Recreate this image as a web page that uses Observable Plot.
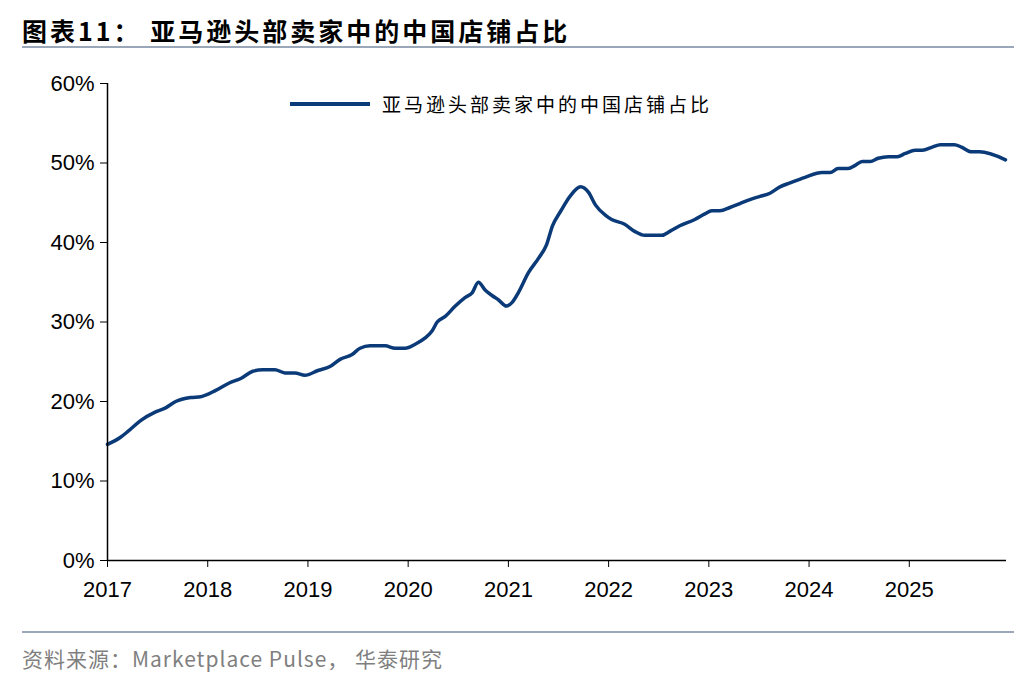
<!DOCTYPE html>
<html><head><meta charset="utf-8">
<script src="https://cdn.jsdelivr.net/npm/d3@7"></script>
<script src="https://cdn.jsdelivr.net/npm/@observablehq/plot@0.6"></script>
<style>
body{margin:0;background:#fff;font-family:"Liberation Sans",Arial,sans-serif;}
#wrap{position:relative;width:1036px;height:684px;}
#title{position:absolute;left:22px;top:12px;font-family:"Noto Sans CJK SC";font-weight:bold;font-size:25px;color:#000;letter-spacing:3px;}
#tline{position:absolute;left:22px;right:22px;top:46px;border-top:2px solid #9aa7b8;}
#chart{position:absolute;left:0;top:65px;}
#chart svg text{font-size:22px !important;font-family:"Liberation Sans",Arial,sans-serif;}
#legend{position:absolute;left:290px;top:90px;font-family:"Noto Sans CJK SC";font-size:19px;display:flex;align-items:center;letter-spacing:3px;}
#legend span{display:inline-block;width:80px;border-top:4px solid #0b3a78;margin-right:12px;}
#bline{position:absolute;left:22px;right:22px;top:631px;border-top:2px solid #9aa7b8;}
#src{position:absolute;left:22px;top:643px;font-family:"Noto Sans CJK SC";font-size:21px;color:#7f7f7f;letter-spacing:1px;}
</style></head><body>
<div id="wrap">
<div id="title">图表11：&nbsp;亚马逊头部卖家中的中国店铺占比</div>
<div id="tline"></div>
<div id="chart"></div>
<div id="legend"><span></span>亚马逊头部卖家中的中国店铺占比</div>
<div id="bline"></div>
<div id="src">资料来源：Marketplace Pulse， 华泰研究</div>
</div>
<script>
const seriesName = "亚马逊头部卖家中的中国店铺占比";
const t = [0,.13,.21,.33,.48,.58,.68,.83,.93,1.08,1.21,1.33,1.45,1.55,1.67,1.77,1.87,1.97,2.10,2.22,2.32,2.44,2.52,2.62,2.77,2.87,2.97,3.07,3.17,3.24,3.29,3.37,3.47,3.57,3.64,3.70,3.77,3.84,3.90,3.98,4.04,4.10,4.20,4.30,4.38,4.44,4.52,4.62,4.72,4.80,4.87,4.97,5.03,5.16,5.26,5.36,5.53,5.61,5.71,5.86,5.96,6.03,6.11,6.21,6.31,6.41,6.51,6.61,6.71,6.81,6.96,7.13,7.21,7.29,7.39,7.46,7.53,7.61,7.69,7.79,7.88,7.96,8.06,8.13,8.23,8.31,8.45,8.52,8.62,8.70,8.96];
const v = [14.6,15.5,16.3,17.6,18.7,19.2,20,20.5,20.6,21.4,22.3,22.9,23.8,24,24,23.6,23.6,23.3,23.9,24.4,25.3,25.9,26.7,27,27,26.7,26.7,27.2,28,28.9,30,30.7,32,33.1,33.7,35,34,33.3,32.8,32,32.5,33.7,36.2,38,39.7,42.1,43.9,45.9,47,46.3,44.7,43.4,42.9,42.3,41.4,40.9,40.9,41.4,42.1,42.9,43.6,44,44,44.4,44.9,45.4,45.8,46.2,47,47.5,48.2,48.8,48.8,49.3,49.3,49.7,50.2,50.2,50.6,50.8,50.8,51.2,51.6,51.6,52,52.3,52.3,52,51.4,51.4,50.4];
const yearTicks = [2017,2018,2019,2020,2021,2022,2023,2024,2025];
const yTicks = [0,10,20,30,40,50,60];
const data = t.map((d,i)=>({x:2017+d, y:v[i]}));
const plot = Plot.plot({
  width:1036, height:545, marginLeft:107, marginRight:30, marginTop:18, marginBottom:50,
  style:{fontFamily:"Liberation Sans, Arial", fontSize:"22px", color:"#000", overflow:"visible"},
  x:{domain:[2017,2025.97], ticks:yearTicks, tickFormat:d=>String(d), tickSize:7, label:null, tickPadding:14},
  y:{domain:[0,60], ticks:yTicks, tickFormat:d=>d+"%", tickSize:7, label:null, tickPadding:6},
  marks:[
    Plot.line(data,{x:"x",y:"y",stroke:"#0b3a78",strokeWidth:3.5,curve:"monotone-x"}),
    Plot.ruleX([2017],{stroke:"#000",strokeWidth:1.5}),
    Plot.ruleY([0],{stroke:"#000",strokeWidth:1.5})
  ]
});
document.getElementById("chart").appendChild(plot);
</script>
</body></html>
